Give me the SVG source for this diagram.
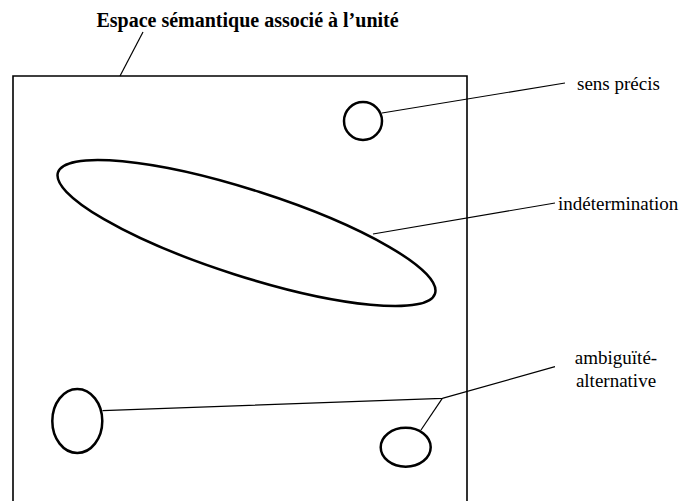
<svg xmlns="http://www.w3.org/2000/svg" width="688" height="501" viewBox="0 0 688 501">
<style>
.lbl{font-family:"Liberation Serif","Times New Roman",serif;font-size:19px;fill:#000}
.ttl{font-family:"Liberation Serif","Times New Roman",serif;font-size:20px;font-weight:bold;fill:#000}
.shape{fill:none;stroke:#000;stroke-width:2.5}
.frame{fill:none;stroke:#000;stroke-width:1.6}
.lead{fill:none;stroke:#000;stroke-width:1.2}
</style>
<rect width="688" height="501" fill="#fff"/>
<g id="espace">
<text class="ttl" x="247.5" y="27" text-anchor="middle">Espace sémantique associé à l’unité</text>
<path class="frame" d="M13,510 V76 H467 V510"/>
</g>
<g id="sens-precis">
<circle class="shape" cx="363" cy="121" r="19"/>
<text class="lbl" x="577" y="90">sens précis</text>
</g>
<g id="indetermination">
<ellipse class="shape" cx="246.5" cy="233" rx="198" ry="43" transform="rotate(17.8 246.5 233)"/>
<text class="lbl" x="558" y="210">indétermination</text>
</g>
<g id="ambiguite">
<ellipse class="shape" cx="77.3" cy="421" rx="25" ry="32"/>
<ellipse class="shape" cx="405.7" cy="447.2" rx="25" ry="19.5"/>
<text class="lbl" x="616" y="364" text-anchor="middle">ambiguïté-</text>
<text class="lbl" x="616" y="387" text-anchor="middle">alternative</text>
</g>
<g id="connectors">
<line class="lead" x1="143" y1="32" x2="120" y2="76"/>
<line class="lead" x1="382" y1="113" x2="565" y2="83"/>
<line class="lead" x1="373" y1="234" x2="555" y2="203"/>
<polyline class="lead" points="102.5,410.7 442.3,398.3 555,366.7"/>
<line class="lead" x1="442.3" y1="398.3" x2="421" y2="430"/>
</g>
</svg>
